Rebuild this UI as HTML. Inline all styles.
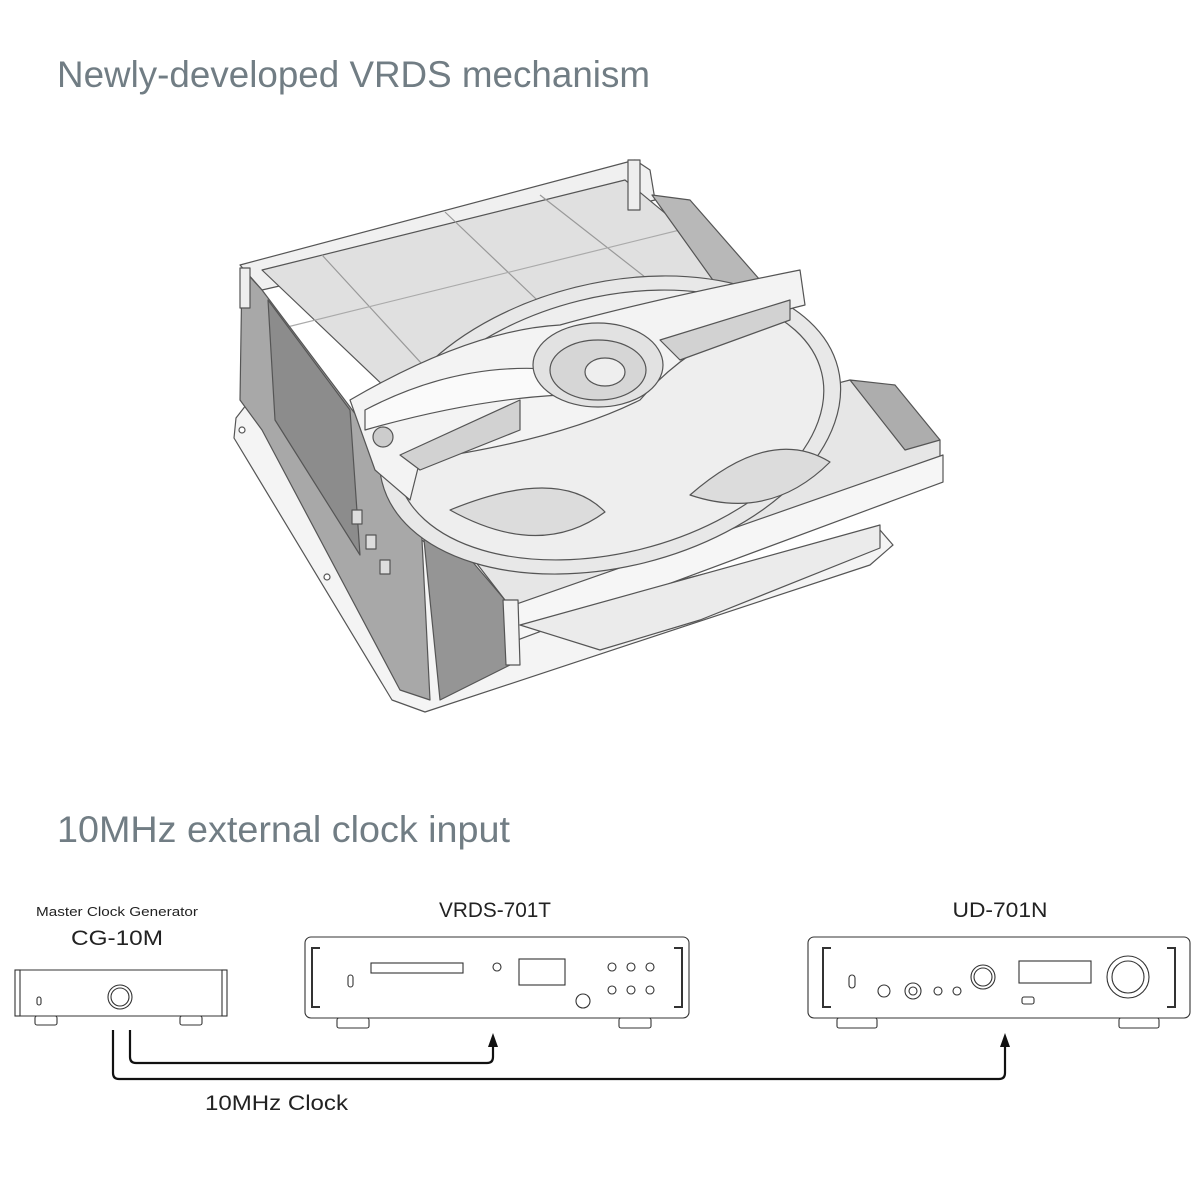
<!DOCTYPE html>
<html><head><meta charset="utf-8"><style>
html,body{margin:0;padding:0;background:#fff;}
svg{display:block;}
</style></head><body>
<svg width="1200" height="1200" viewBox="0 0 1200 1200" xmlns="http://www.w3.org/2000/svg" font-family="Liberation Sans, sans-serif">
<rect width="1200" height="1200" fill="#fff"/>
<text x="57" y="87" font-size="37" fill="#717d84" textLength="593" lengthAdjust="spacingAndGlyphs">Newly-developed VRDS mechanism</text>
<text x="57" y="842" font-size="37" fill="#717d84" textLength="453" lengthAdjust="spacingAndGlyphs">10MHz external clock input</text>

<!-- Mechanism -->
<g stroke="#555" stroke-width="1.2" stroke-linejoin="round">
  <!-- base plate -->
  <path d="M250,400 L236,418 L234,438 L392,700 L425,712 L870,565 L893,545 L880,530 L520,620 Z" fill="#f4f4f4"/>
  <circle cx="242" cy="430" r="3" fill="#fff"/><circle cx="327" cy="577" r="3" fill="#fff"/><circle cx="405" cy="665" r="3" fill="#fff"/>
  <!-- back top rim -->
  <path d="M240,265 L635,160 L650,170 L655,200 L262,290 Z" fill="#f0f0f0"/>
  <!-- top slabs -->
  <path d="M262,270 L625,180 L770,300 L430,430 Z" fill="#e0e0e0"/>
  <line x1="322" y1="255" x2="455" y2="400" stroke="#999"/>
  <line x1="445" y1="212" x2="600" y2="360" stroke="#999"/>
  <line x1="540" y1="195" x2="700" y2="320" stroke="#999"/>
  <line x1="275" y1="330" x2="700" y2="225" stroke="#aaa"/>
  <!-- right back panel -->
  <path d="M652,195 L690,200 L760,280 L720,290 Z" fill="#b8b8b8"/>
  <!-- left wall -->
  <path d="M242,268 L262,290 L420,500 L430,700 L400,690 L262,430 L240,400 Z" fill="#a8a8a8"/>
  <path d="M268,300 L350,410 L360,555 L275,420 Z" fill="#8c8c8c"/>
  <path d="M420,500 L505,600 L510,665 L440,700 Z" fill="#959595"/>
  <rect x="352" y="510" width="10" height="14" fill="#ddd"/><rect x="366" y="535" width="10" height="14" fill="#ddd"/><rect x="380" y="560" width="10" height="14" fill="#ddd"/>
  <!-- tray -->
  <path d="M420,490 L850,380 L940,440 L940,480 L515,640 L505,600 Z" fill="#e6e6e6"/>
  <path d="M505,608 L943,455 L943,482 L512,642 Z" fill="#f6f6f6"/>
  <path d="M850,380 L895,385 L940,440 L905,450 Z" fill="#adadad"/>
  <path d="M503,600 L518,600 L520,665 L506,665 Z" fill="#f2f2f2"/>
  <path d="M520,625 L880,525 L880,548 L700,620 L600,650 Z" fill="#ebebeb"/>
  <!-- disc -->
  <ellipse cx="610" cy="425" rx="235" ry="142" transform="rotate(-14 610 425)" fill="#e8e8e8"/>
  <ellipse cx="610" cy="425" rx="218" ry="128" transform="rotate(-14 610 425)" fill="#eeeeee"/>
  <path d="M450,510 Q560,465 605,512 Q540,560 450,510 Z" fill="#dcdcdc"/>
  <path d="M690,495 Q770,425 830,462 Q770,522 690,495 Z" fill="#dcdcdc"/>
  <!-- clamp arm -->
  <path d="M350,400 Q470,330 560,325 Q650,300 800,270 L805,305 Q700,330 640,400 Q560,440 420,460 L410,500 L375,470 Z" fill="#f3f3f3"/>
  <path d="M365,430 Q470,400 560,395 L560,370 Q460,360 365,410 Z" fill="#fafafa"/>
  <path d="M400,455 L520,400 L520,430 L420,470 Z" fill="#d2d2d2"/>
  <path d="M660,340 L790,300 L790,320 L680,360 Z" fill="#d2d2d2"/>
  <!-- hub -->
  <ellipse cx="598" cy="365" rx="65" ry="42" fill="#e2e2e2"/>
  <ellipse cx="598" cy="370" rx="48" ry="30" fill="#d6d6d6"/>
  <ellipse cx="605" cy="372" rx="20" ry="14" fill="#eeeeee"/>
  <circle cx="383" cy="437" r="10" fill="#ccc"/>
  <!-- posts -->
  <rect x="628" y="160" width="12" height="50" fill="#eee"/>
  <rect x="240" y="268" width="10" height="40" fill="#eee"/>
</g>

<!-- Clock diagram labels -->
<text x="117" y="916" font-size="13" fill="#222" text-anchor="middle" textLength="162" lengthAdjust="spacingAndGlyphs">Master Clock Generator</text>
<text x="117" y="945" font-size="21" fill="#222" text-anchor="middle" textLength="92" lengthAdjust="spacingAndGlyphs">CG-10M</text>
<text x="495" y="917" font-size="21" fill="#222" text-anchor="middle" textLength="112" lengthAdjust="spacingAndGlyphs">VRDS-701T</text>
<text x="1000" y="917" font-size="21" fill="#222" text-anchor="middle" textLength="95" lengthAdjust="spacingAndGlyphs">UD-701N</text>
<text x="205" y="1110" font-size="21" fill="#222" textLength="143" lengthAdjust="spacingAndGlyphs">10MHz Clock</text>

<g stroke="#333" stroke-width="1.1" fill="#fff">
  <!-- CG-10M -->
  <rect x="17" y="970" width="208" height="46" rx="3"/>
  <rect x="15" y="970" width="5" height="46"/><rect x="222" y="970" width="5" height="46"/>
  <rect x="35" y="1016" width="22" height="9" rx="2"/><rect x="180" y="1016" width="22" height="9" rx="2"/>
  <circle cx="120" cy="997" r="12"/><circle cx="120" cy="997" r="9"/>
  <rect x="37" y="997" width="4" height="8" rx="2"/>
  <!-- VRDS-701T -->
  <rect x="305" y="937" width="384" height="81" rx="6"/>
  <path d="M320,948 L312,948 L312,1007 L320,1007" fill="none" stroke-width="2"/>
  <path d="M674,948 L682,948 L682,1007 L674,1007" fill="none" stroke-width="2"/>
  <rect x="337" y="1018" width="32" height="10" rx="2"/><rect x="619" y="1018" width="32" height="10" rx="2"/>
  <rect x="371" y="963" width="92" height="10"/>
  <circle cx="497" cy="967" r="4"/>
  <rect x="519" y="959" width="46" height="26"/>
  <circle cx="612" cy="967" r="4"/><circle cx="631" cy="967" r="4"/><circle cx="650" cy="967" r="4"/>
  <circle cx="612" cy="990" r="4"/><circle cx="631" cy="990" r="4"/><circle cx="650" cy="990" r="4"/>
  <circle cx="583" cy="1001" r="7"/>
  <rect x="348" y="975" width="5" height="12" rx="2.5"/>
  <!-- UD-701N -->
  <rect x="808" y="937" width="382" height="81" rx="6"/>
  <path d="M831,948 L823,948 L823,1007 L831,1007" fill="none" stroke-width="2"/>
  <path d="M1167,948 L1175,948 L1175,1007 L1167,1007" fill="none" stroke-width="2"/>
  <rect x="837" y="1018" width="40" height="10" rx="2"/><rect x="1119" y="1018" width="40" height="10" rx="2"/>
  <rect x="849" y="975" width="6" height="13" rx="3"/>
  <circle cx="884" cy="991" r="6"/><circle cx="913" cy="991" r="8"/><circle cx="913" cy="991" r="4"/>
  <circle cx="938" cy="991" r="4"/><circle cx="957" cy="991" r="4"/>
  <circle cx="983" cy="977" r="12"/><circle cx="983" cy="977" r="9"/>
  <rect x="1019" y="961" width="72" height="22"/>
  <rect x="1022" y="997" width="12" height="7" rx="2"/>
  <circle cx="1128" cy="977" r="21"/><circle cx="1128" cy="977" r="16"/>
</g>

<!-- connectors -->
<g stroke="#111" stroke-width="2.2" fill="none">
  <path d="M113,1030 L113,1073 Q113,1079 119,1079 L999,1079 Q1005,1079 1005,1073 L1005,1045"/>
  <path d="M130,1030 L130,1057 Q130,1063 136,1063 L487,1063 Q493,1063 493,1057 L493,1045"/>
</g>
<path d="M493,1033 L488,1047 L498,1047 Z M1005,1033 L1000,1047 L1010,1047 Z" fill="#111"/>
</svg>
</body></html>
